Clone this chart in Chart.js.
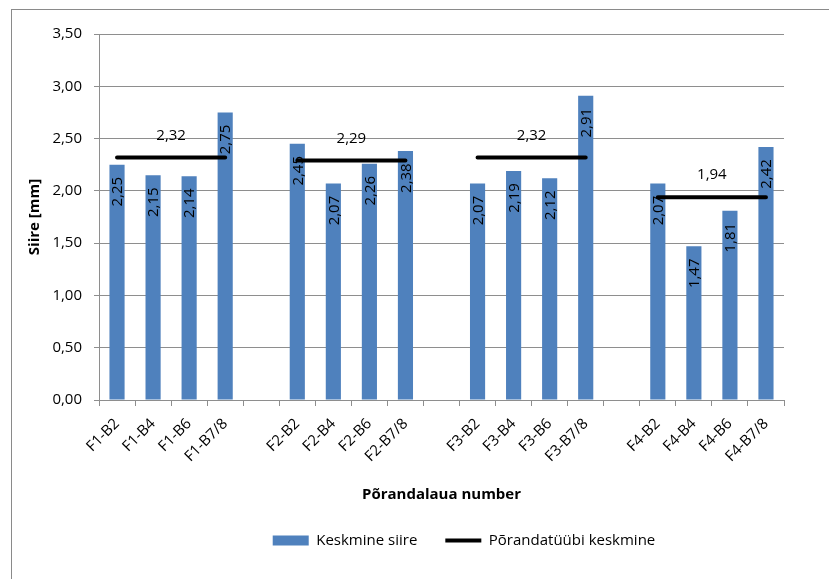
<!DOCTYPE html>
<html>
<head>
<meta charset="utf-8">
<script src="https://cdn.jsdelivr.net/npm/chart.js@4/dist/chart.umd.min.js"></script>
<style>
  html, body { margin: 0; padding: 0; background: #fff; overflow: hidden; }
  #frame { position: absolute; left: 11px; top: 9px; width: 900px; height: 700px; border: 1px solid #8a8a8a; }
  #wrap { position: absolute; left: 0; top: 0; width: 829px; height: 579px; }
</style>
</head>
<body>
<div id="frame"></div>
<div id="wrap"><canvas id="siireChart"></canvas></div>
<script>
// Board numbers, with empty slots separating the floor types
const boards = [
  "F1-B2", "F1-B4", "F1-B6", "F1-B7/8", "",
  "F2-B2", "F2-B4", "F2-B6", "F2-B7/8", "",
  "F3-B2", "F3-B4", "F3-B6", "F3-B7/8", "",
  "F4-B2", "F4-B4", "F4-B6", "F4-B7/8"
];

// Average gap per board [mm]
const meanGap = [
  2.25, 2.15, 2.14, 2.75, null,
  2.45, 2.07, 2.26, 2.38, null,
  2.07, 2.19, 2.12, 2.91, null,
  2.07, 1.47, 1.81, 2.42
];

// Average per floor type, spread over its four boards
const typeMean = [
  2.32, 2.32, 2.32, 2.32, null,
  2.29, 2.29, 2.29, 2.29, null,
  2.32, 2.32, 2.32, 2.32, null,
  1.94, 1.94, 1.94, 1.94
];

const yTicks = [0, 0.5, 1, 1.5, 2, 2.5, 3, 3.5];

const FONT = "'Open Sans', 'Noto Sans', sans-serif";
const GRID = "#8e8e8e";
const fmt = v => v.toFixed(2).replace(".", ",");

// value labels: rotated inside the bars, and above each floor-type line
const valueLabels = {
  id: "valueLabels",
  afterDatasetsDraw(chart) {
    const ctx = chart.ctx;
    ctx.save();
    ctx.fillStyle = "#000";
    ctx.font = "15px " + FONT;
    ctx.textAlign = "center";
    ctx.textBaseline = "middle";

    chart.getDatasetMeta(0).data.forEach((bar, i) => {
      const v = meanGap[i];
      if (v == null) return;
      ctx.save();
      ctx.translate(bar.x + 1, bar.y + 27);
      ctx.rotate(-Math.PI / 2);
      ctx.fillText(fmt(v), 0, 0);
      ctx.restore();
    });

    const pts = chart.getDatasetMeta(1).data;
    let start = null;
    for (let i = 0; i <= typeMean.length; i++) {
      const v = typeMean[i];
      if (v != null && start === null) start = i;
      if ((v == null || i === typeMean.length) && start !== null) {
        const end = i - 1;
        const x = (pts[start].x + pts[end].x) / 2;
        ctx.fillText(fmt(typeMean[start]), x, pts[start].y - 22);
        start = null;
      }
    }
    ctx.restore();
  }
};

// legend sits centred under the board labels
const legendShift = {
  id: "legendShift",
  afterLayout(chart) {
    const lg = chart.legend;
    if (!lg) return;
    lg.left += 72;
    lg.right += 72;
  }
};

new Chart(document.getElementById("siireChart"), {
  data: {
    labels: boards,
    datasets: [
      {
        type: "bar",
        label: "Keskmine siire",
        data: meanGap,
        backgroundColor: "#4f81bd",
        barPercentage: 0.42,
        categoryPercentage: 1,
        pointStyle: "rect",
        order: 2
      },
      {
        type: "line",
        label: "Põrandatüübi keskmine",
        data: typeMean,
        borderColor: "#000",
        backgroundColor: "#000",
        borderWidth: 4,
        borderCapStyle: "round",
        pointRadius: 0,
        spanGaps: false,
        pointStyle: "line",
        order: 1
      }
    ]
  },
  options: {
    responsive: true,
    maintainAspectRatio: false,
    animation: false,
    layout: { padding: { left: 0, right: 45, top: 34, bottom: 21 } },
    plugins: {
      legend: {
        position: "bottom",
        labels: {
          usePointStyle: true,
          pointStyleWidth: 36,
          boxHeight: 10,
          padding: 28,
          color: "#000",
          font: { family: FONT, size: 15 },
          sort: (a, b) => a.datasetIndex - b.datasetIndex
        }
      },
      tooltip: { enabled: false }
    },
    scales: {
      x: {
        type: "category",
        grid: { offset: true, drawOnChartArea: false, drawTicks: true, tickLength: 6, color: GRID },
        border: { color: GRID },
        ticks: {
          autoSkip: false,
          maxRotation: 45,
          minRotation: 45,
          padding: 9,
          color: "#000",
          font: { family: FONT, size: 15 }
        },
        title: {
          display: true,
          text: "Põrandalaua number",
          color: "#000",
          font: { family: FONT, size: 15, weight: "bold" },
          padding: { top: 0, bottom: 1 }
        },
        afterFit(scale) { scale.height = 105; }
      },
      y: {
        min: 0,
        max: 3.5,
        afterBuildTicks(scale) { scale.ticks = yTicks.map(v => ({ value: v })); },
        grid: { color: GRID, tickLength: 5 },
        border: { color: GRID },
        ticks: {
          padding: 12,
          color: "#000",
          font: { family: FONT, size: 15 },
          callback: v => fmt(v)
        },
        title: {
          display: true,
          text: "Siire [mm]",
          color: "#000",
          font: { family: FONT, size: 15, weight: "bold" },
          padding: { top: 26, bottom: 0 }
        },
        afterFit(scale) { scale.width = 99; }
      }
    }
  },
  plugins: [valueLabels, legendShift]
});
</script>
</body>
</html>
